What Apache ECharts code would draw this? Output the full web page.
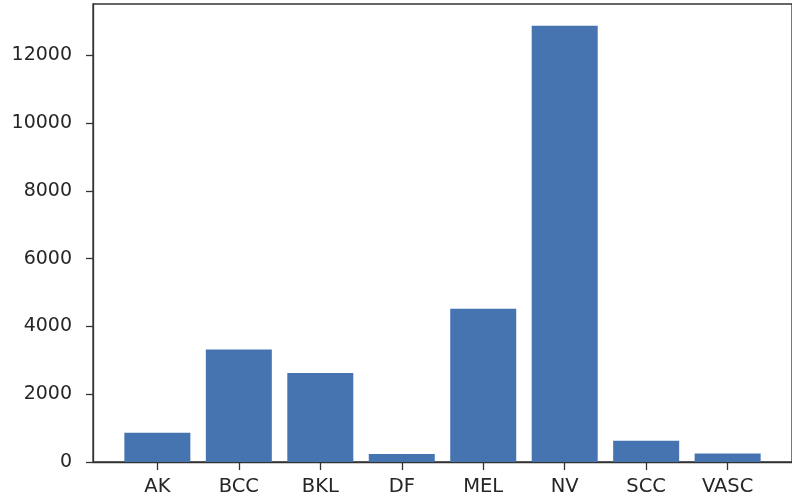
<!DOCTYPE html>
<html>
<head>
<meta charset="utf-8">
<title>Class distribution</title>
<script src="https://cdn.jsdelivr.net/npm/echarts@6/dist/echarts.min.js"></script>
<style>
  html, body { margin: 0; padding: 0; background: #ffffff; }
  #chart { width: 792px; height: 502px; }
</style>
</head>
<body>
<div id="chart"></div>
<script>
// Image counts per diagnostic class
const categories = ['AK', 'BCC', 'BKL', 'DF', 'MEL', 'NV', 'SCC', 'VASC'];
const counts = [867, 3323, 2624, 239, 4522, 12875, 628, 253];
const yTicks = [0, 2000, 4000, 6000, 8000, 10000, 12000];

const positions = categories.map((_, i) => i);
const barData = counts.map((v, i) => [positions[i], v]);

const chart = echarts.init(document.getElementById('chart'), null, { renderer: 'canvas' });
const textColor = '#262626';
const lineColor = '#333333';
const font = 'DejaVu Sans';

chart.setOption({
  animation: false,
  backgroundColor: '#ffffff',
  grid: {
    left: 93, top: 4, width: 704, height: 458,
    show: true, borderColor: lineColor, borderWidth: 1.3, backgroundColor: 'transparent'
  },
  xAxis: {
    type: 'value',
    min: -0.79, max: 7.79,
    splitLine: { show: false },
    axisLine: { show: true, onZero: false, lineStyle: { color: lineColor, width: 1.3 } },
    axisTick: { show: true, customValues: positions, length: 8, lineStyle: { color: lineColor, width: 1.3 } },
    axisLabel: {
      customValues: positions,
      formatter: v => categories[Math.round(v)],
      color: textColor, fontFamily: font, fontSize: 19.5, margin: 15
    }
  },
  yAxis: {
    type: 'value',
    min: 0, max: 13519,
    splitLine: { show: false },
    axisLine: { show: true, onZero: false, lineStyle: { color: lineColor, width: 1.3 } },
    axisTick: { show: true, customValues: yTicks, length: 7, lineStyle: { color: lineColor, width: 1.3 } },
    axisLabel: {
      customValues: yTicks,
      formatter: v => String(v),
      color: textColor, fontFamily: font, fontSize: 19, margin: 21
    }
  },
  series: [{
    type: 'bar',
    data: barData,
    barWidth: 66,
    itemStyle: { color: '#4674b0' }
  }]
});
</script>
</body>
</html>
